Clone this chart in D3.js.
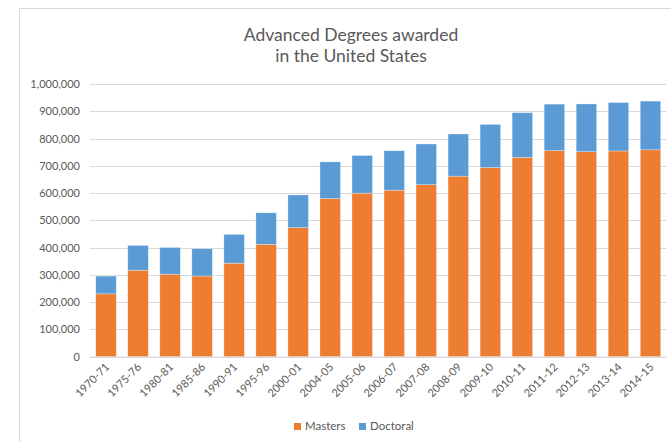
<!DOCTYPE html>
<html>
<head>
<meta charset="utf-8">
<script src="https://cdn.jsdelivr.net/npm/d3@7"></script>
<style>
  html, body { margin: 0; padding: 0; background: #fff; }
  svg { display: block; }
  text { font-family: Lato, "Open Sans", sans-serif; fill: #595959; }
</style>
</head>
<body>
<svg id="chart" width="671" height="442"></svg>
<script>
// Academic years and degrees conferred
const years = ["1970-71","1975-76","1980-81","1985-86","1990-91","1995-96","2000-01",
  "2004-05","2005-06","2006-07","2007-08","2008-09","2009-10","2010-11",
  "2011-12","2012-13","2013-14","2014-15"];
const masters = [230509,317164,302637,295850,342863,412180,473502,580151,599731,
  610597,630666,662082,693313,730922,755967,751718,754475,758708];
const doctoral = [64998,91007,98016,100280,105547,115507,119585,134387,138056,
  144690,149378,154564,158590,163827,170217,175038,177580,178547];
const seriesNames = ["Masters", "Doctoral"];
const seriesColors = ["#ED7D31", "#5B9BD5"];
const yTicks = [0,100000,200000,300000,400000,500000,600000,700000,800000,900000,1000000];
const titleLines = ["Advanced Degrees awarded", "in the United States"];

const svg = d3.select("#chart");
const plot = { left: 90, right: 666.5, top: 84, bottom: 356.7 };

// chart frame
svg.append("rect")
  .attr("x", 19.5).attr("y", 8.5)
  .attr("width", 700).attr("height", 500)
  .attr("fill", "#fff").attr("stroke", "#D9D9D9").attr("stroke-width", 1);

// title
svg.append("text")
  .attr("x", 351).attr("y", 40.5)
  .attr("text-anchor", "middle")
  .style("font-size", "17.5px")
  .selectAll("tspan").data(titleLines).join("tspan")
  .attr("x", 351).attr("dy", (d, i) => i === 0 ? 0 : 21)
  .text(d => d);

const x = d3.scaleBand()
  .domain(years)
  .range([plot.left, plot.right])
  .paddingInner(0.36)
  .paddingOuter(0.18);

const y = d3.scaleLinear()
  .domain([0, 1000000])
  .range([plot.bottom, plot.top]);

// gridlines
svg.append("g")
  .selectAll("line").data(yTicks).join("line")
  .attr("x1", plot.left).attr("x2", plot.right)
  .attr("y1", d => Math.round(y(d)) + 0.5).attr("y2", d => Math.round(y(d)) + 0.5)
  .attr("stroke", "#D9D9D9").attr("stroke-width", 1);

// y axis labels
const yAxis = d3.axisLeft(y)
  .tickValues(yTicks)
  .tickSize(0)
  .tickPadding(0)
  .tickFormat(d3.format(","));
const gy = svg.append("g")
  .attr("transform", `translate(${plot.left - 10},0)`)
  .call(yAxis);
gy.select(".domain").remove();
gy.selectAll("text").style("font-size", "11px").attr("fill", "#595959");

// stacked bars
const rows = years.map((yr, i) => ({ year: yr, Masters: masters[i], Doctoral: doctoral[i] }));
const stack = d3.stack().keys(seriesNames)(rows);

svg.append("g")
  .selectAll("g").data(stack).join("g")
  .attr("fill", (d, i) => seriesColors[i])
  .selectAll("rect").data(d => d).join("rect")
  .attr("x", d => x(d.data.year))
  .attr("width", x.bandwidth())
  .attr("y", d => y(d[1]))
  .attr("height", d => y(d[0]) - y(d[1]))
  .attr("stroke", "#fff").attr("stroke-opacity", 0.5).attr("stroke-width", 0.6);

// x axis
const xAxis = d3.axisBottom(x).tickSize(0).tickPadding(0);
const gx = svg.append("g")
  .attr("transform", `translate(0,${plot.bottom})`)
  .call(xAxis);
gx.select(".domain").attr("stroke", "#D9D9D9");
gx.selectAll("text")
  .style("font-size", "11px")
  .attr("fill", "#595959")
  .attr("text-anchor", "end")
  .attr("dy", null)
  .attr("transform", "translate(4,11) rotate(-45)");

// legend
const legendX = [294, 359];
const lg = svg.append("g").selectAll("g").data(seriesNames).join("g")
  .attr("transform", (d, i) => `translate(${legendX[i]},423)`);
lg.append("rect").attr("width", 7).attr("height", 7)
  .attr("fill", (d, i) => seriesColors[i]);
lg.append("text").attr("x", 11).attr("y", 6.5)
  .style("font-size", "11.5px")
  .text(d => d);
</script>
</body>
</html>
